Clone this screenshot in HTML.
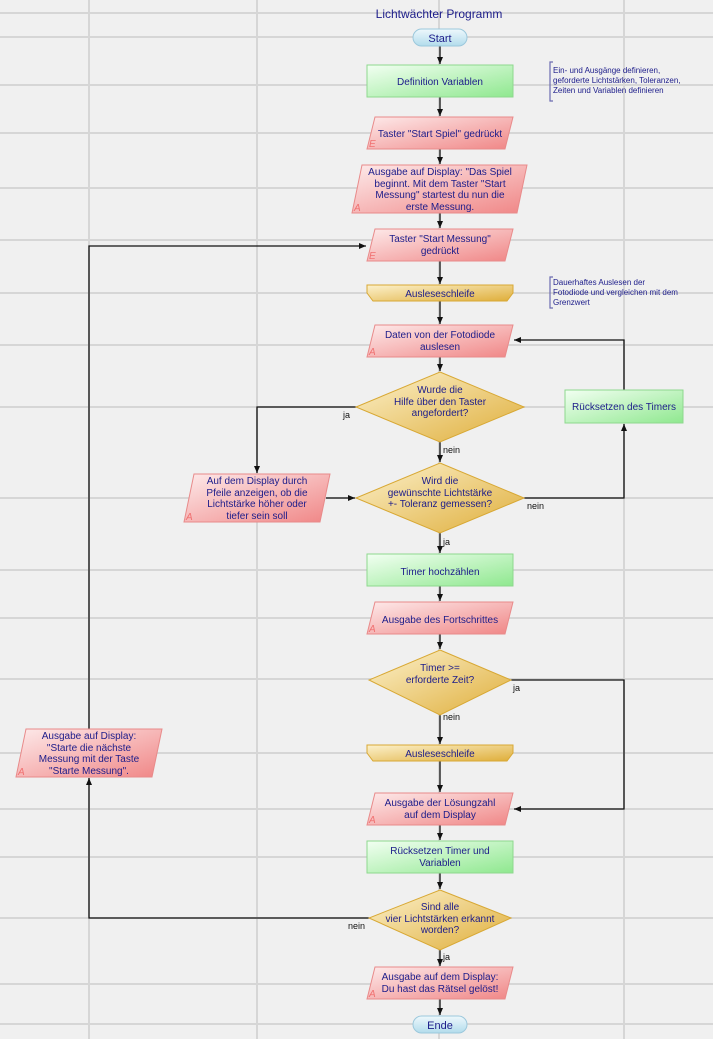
<!DOCTYPE html>
<html><head><meta charset="utf-8"><style>
html,body{margin:0;padding:0;background:#f0f0f0}
svg{display:block}
text{font-family:"Liberation Sans",sans-serif;font-size:10px;fill:#1c1c8a}
.l{fill:#111;font-size:9px}
</style></head><body>
<svg width="713" height="1039" viewBox="0 0 713 1039" xmlns="http://www.w3.org/2000/svg">
<defs>
<linearGradient id="r" x1="0" y1="0" x2="1" y2="1"><stop offset="0" stop-color="#fdeaea"/><stop offset="1" stop-color="#f08686"/></linearGradient>
<linearGradient id="g" x1="0" y1="0" x2="1" y2="1"><stop offset="0" stop-color="#f2fff2"/><stop offset="1" stop-color="#8fe88f"/></linearGradient>
<linearGradient id="y" x1="0" y1="0" x2="1" y2="1"><stop offset="0" stop-color="#fcf1cc"/><stop offset="1" stop-color="#dfae3a"/></linearGradient>
<linearGradient id="b" x1="0" y1="0" x2="0" y2="1"><stop offset="0" stop-color="#eef8fc"/><stop offset="1" stop-color="#b2dcec"/></linearGradient>
<marker id="a" markerWidth="8" markerHeight="8" refX="7" refY="4" orient="auto" markerUnits="userSpaceOnUse"><path d="M0,1 L7,4 L0,7 z" fill="#111"/></marker>
</defs>
<g stroke="#d6d6d6" stroke-width="2">
<line x1="89" y1="0" x2="89" y2="1039"/><line x1="257" y1="0" x2="257" y2="1039"/><line x1="439" y1="0" x2="439" y2="1039"/><line x1="624" y1="0" x2="624" y2="1039"/>
<line x1="0" y1="13" x2="713" y2="13"/><line x1="0" y1="37" x2="713" y2="37"/><line x1="0" y1="85" x2="713" y2="85"/><line x1="0" y1="133" x2="713" y2="133"/><line x1="0" y1="188" x2="713" y2="188"/><line x1="0" y1="240" x2="713" y2="240"/><line x1="0" y1="293" x2="713" y2="293"/><line x1="0" y1="345" x2="713" y2="345"/><line x1="0" y1="407" x2="713" y2="407"/><line x1="0" y1="498" x2="713" y2="498"/><line x1="0" y1="570" x2="713" y2="570"/><line x1="0" y1="618" x2="713" y2="618"/><line x1="0" y1="679" x2="713" y2="679"/><line x1="0" y1="753" x2="713" y2="753"/><line x1="0" y1="809" x2="713" y2="809"/><line x1="0" y1="857" x2="713" y2="857"/><line x1="0" y1="918" x2="713" y2="918"/><line x1="0" y1="984" x2="713" y2="984"/><line x1="0" y1="1024" x2="713" y2="1024"/>
</g>
<g stroke="#111" stroke-width="1.3" fill="none">
<line x1="440" y1="46" x2="440" y2="64" marker-end="url(#a)"/>
<line x1="440" y1="97" x2="440" y2="116" marker-end="url(#a)"/>
<line x1="440" y1="149" x2="440" y2="164" marker-end="url(#a)"/>
<line x1="440" y1="213" x2="440" y2="228" marker-end="url(#a)"/>
<line x1="440" y1="261" x2="440" y2="284" marker-end="url(#a)"/>
<line x1="440" y1="301" x2="440" y2="324" marker-end="url(#a)"/>
<line x1="440" y1="357" x2="440" y2="371" marker-end="url(#a)"/>
<line x1="440" y1="442" x2="440" y2="462" marker-end="url(#a)"/>
<line x1="440" y1="533" x2="440" y2="553" marker-end="url(#a)"/>
<line x1="440" y1="586" x2="440" y2="601" marker-end="url(#a)"/>
<line x1="440" y1="634" x2="440" y2="649" marker-end="url(#a)"/>
<line x1="440" y1="715" x2="440" y2="744" marker-end="url(#a)"/>
<line x1="440" y1="761" x2="440" y2="792" marker-end="url(#a)"/>
<line x1="440" y1="825" x2="440" y2="840" marker-end="url(#a)"/>
<line x1="440" y1="873" x2="440" y2="889" marker-end="url(#a)"/>
<line x1="440" y1="950" x2="440" y2="966" marker-end="url(#a)"/>
<line x1="440" y1="999" x2="440" y2="1015" marker-end="url(#a)"/>
<polyline points="356,407 257,407 257,473" marker-end="url(#a)"/>
<line x1="326" y1="498" x2="355" y2="498" marker-end="url(#a)"/>
<polyline points="524,498 624,498 624,424" marker-end="url(#a)"/>
<polyline points="624,390 624,340 514,340" marker-end="url(#a)"/>
<polyline points="511,680 624,680 624,809 514,809" marker-end="url(#a)"/>
<polyline points="369,918 89,918 89,778" marker-end="url(#a)"/>
<polyline points="89,729 89,246 366,246" marker-end="url(#a)"/>
</g>
<text x="439" y="18" text-anchor="middle" style="font-size:12px">Lichtwächter Programm</text>
<rect x="413" y="29" width="54" height="17" rx="8.5" fill="url(#b)" stroke="#9cc8dc"/>
<text x="440" y="42" text-anchor="middle" style="font-size:11px">Start</text>
<rect x="413" y="1016" width="54" height="17" rx="8.5" fill="url(#b)" stroke="#9cc8dc"/>
<text x="440" y="1029" text-anchor="middle" style="font-size:11px">Ende</text>
<g fill="url(#g)" stroke="#8ed88e">
<rect x="367" y="65" width="146" height="32"/>
<rect x="565" y="390" width="118" height="33"/>
<rect x="367" y="554" width="146" height="32"/>
<rect x="367" y="841" width="146" height="32"/>
</g>
<text x="440" y="85" text-anchor="middle">Definition Variablen</text>
<text x="624" y="410" text-anchor="middle">Rücksetzen des Timers</text>
<text x="440" y="575" text-anchor="middle">Timer hochzählen</text>
<text x="440" y="854" text-anchor="middle">Rücksetzen Timer und</text>
<text x="440" y="866" text-anchor="middle">Variablen</text>
<g fill="url(#r)" stroke="#e88a8a">
<polygon points="375,117 513,117 505,149 367,149"/>
<polygon points="362,165 527,165 517,213 352,213"/>
<polygon points="375,229 513,229 505,261 367,261"/>
<polygon points="375,325 513,325 505,357 367,357"/>
<polygon points="194,474 330,474 320,522 184,522"/>
<polygon points="375,602 513,602 505,634 367,634"/>
<polygon points="375,793 513,793 505,825 367,825"/>
<polygon points="375,967 513,967 505,999 367,999"/>
<polygon points="26,729 162,729 152,777 16,777"/>
</g>
<g style="font-size:10px;font-style:italic">
<text x="369" y="147" style="fill:#f07070">E</text><text x="354" y="211" style="fill:#f07070">A</text><text x="369" y="259" style="fill:#f07070">E</text><text x="369" y="355" style="fill:#f07070">A</text><text x="186" y="520" style="fill:#f07070">A</text><text x="369" y="632" style="fill:#f07070">A</text><text x="369" y="823" style="fill:#f07070">A</text><text x="369" y="997" style="fill:#f07070">A</text><text x="18" y="775" style="fill:#f07070">A</text>
</g>
<g text-anchor="middle">
<text x="440" y="137">Taster "Start Spiel" gedrückt</text>
<text x="440" y="175">Ausgabe auf Display: "Das Spiel</text>
<text x="440" y="187">beginnt. Mit dem Taster "Start</text>
<text x="440" y="198">Messung" startest du nun die</text>
<text x="440" y="210">erste Messung.</text>
<text x="440" y="242">Taster "Start Messung"</text>
<text x="440" y="254">gedrückt</text>
<text x="440" y="338">Daten von der Fotodiode</text>
<text x="440" y="350">auslesen</text>
<text x="257" y="484">Auf dem Display durch</text>
<text x="257" y="496">Pfeile anzeigen, ob die</text>
<text x="257" y="507">Lichtstärke höher oder</text>
<text x="257" y="519">tiefer sein soll</text>
<text x="440" y="623">Ausgabe des Fortschrittes</text>
<text x="440" y="806">Ausgabe der Lösungzahl</text>
<text x="440" y="818">auf dem Display</text>
<text x="440" y="980">Ausgabe auf dem Display:</text>
<text x="440" y="992">Du hast das Rätsel gelöst!</text>
<text x="89" y="739">Ausgabe auf Display:</text>
<text x="89" y="751">"Starte die nächste</text>
<text x="89" y="762">Messung mit der Taste</text>
<text x="89" y="774">"Starte Messung".</text>
</g>
<g fill="url(#y)" stroke="#d8a834">
<polygon points="367,285 513,285 513,293 507,301 373,301 367,293"/>
<polygon points="367,745 513,745 513,753 507,761 373,761 367,753"/>
<polygon points="440,372 524,407 440,442 356,407"/>
<polygon points="440,463 524,498 440,533 356,498"/>
<polygon points="440,650 511,680 440,715 369,680"/>
<polygon points="440,890 511,918 440,950 369,918"/>
</g>
<g text-anchor="middle">
<text x="440" y="297">Ausleseschleife</text>
<text x="440" y="757">Ausleseschleife</text>
<text x="440" y="393">Wurde die</text>
<text x="440" y="405">Hilfe über den Taster</text>
<text x="440" y="416">angefordert?</text>
<text x="440" y="484">Wird die</text>
<text x="440" y="496">gewünschte Lichtstärke</text>
<text x="440" y="507">+- Toleranz gemessen?</text>
<text x="440" y="671">Timer &gt;=</text>
<text x="440" y="683">erforderte Zeit?</text>
<text x="440" y="910">Sind alle</text>
<text x="440" y="922">vier Lichtstärken erkannt</text>
<text x="440" y="933">worden?</text>
</g>
<g>
<text class="l" x="343" y="418">ja</text>
<text class="l" x="443" y="453">nein</text>
<text class="l" x="527" y="509">nein</text>
<text class="l" x="443" y="545">ja</text>
<text class="l" x="513" y="691">ja</text>
<text class="l" x="443" y="720">nein</text>
<text class="l" x="348" y="929">nein</text>
<text class="l" x="443" y="960">ja</text>
</g>
<polyline points="553,62 550,62 550,101 553,101" fill="none" stroke="#6b6bb0" stroke-width="1.2"/>
<g style="font-size:8px">
<text x="553" y="73" style="font-size:8px">Ein- und Ausgänge definieren,</text>
<text x="553" y="83" style="font-size:8px">geforderte Lichtstärken, Toleranzen,</text>
<text x="553" y="93" style="font-size:8px">Zeiten und Variablen definieren</text>
</g>
<polyline points="553,277 550,277 550,308 553,308" fill="none" stroke="#6b6bb0" stroke-width="1.2"/>
<g>
<text x="553" y="285" style="font-size:8px">Dauerhaftes Auslesen der</text>
<text x="553" y="295" style="font-size:8px">Fotodiode und vergleichen mit dem</text>
<text x="553" y="305" style="font-size:8px">Grenzwert</text>
</g>
</svg>
</body></html>
